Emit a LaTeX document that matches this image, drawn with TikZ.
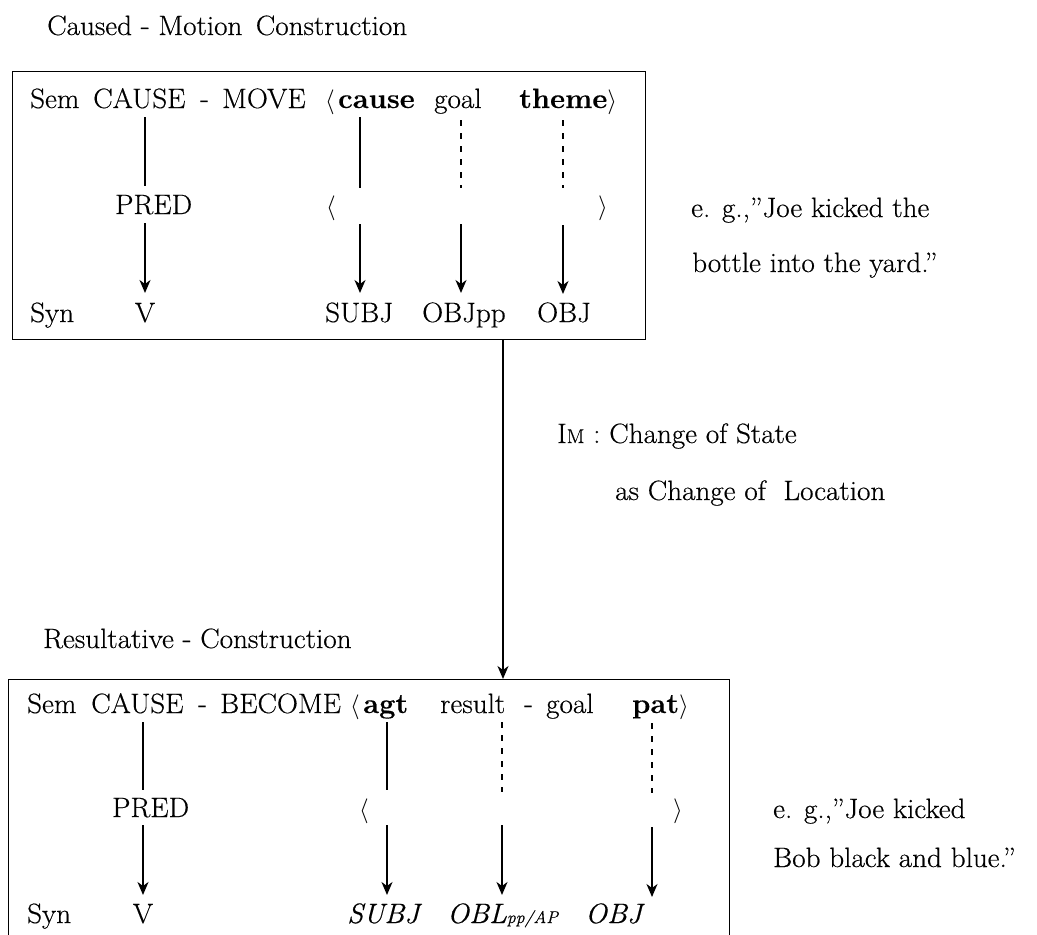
\documentclass[tikz,border=0pt]{standalone}
\usepackage{fontspec}
\setmainfont{Latin Modern Roman}[FakeStretch=1.04,FakeBold=0.4]
\usetikzlibrary{arrows.meta}
\newcommand{\shortdash}{\raisebox{0.6pt}{-}}
\begin{document}
\begin{tikzpicture}[x=1pt,y=-1pt,
  txt/.style={anchor=base west,inner sep=0pt,font=\fontsize{28}{32}\selectfont},
  ctxt/.style={anchor=base,inner sep=0pt,font=\fontsize{28}{32}\selectfont},
  link/.style={line width=1.5pt},
  dlink/.style={line width=1.3pt,dash pattern=on 6pt off 7pt},
  arr/.style={line width=1.5pt,-{Stealth[length=13pt,width=11pt,inset=4pt]}},
  frame/.style={draw,line width=1pt,inner sep=0pt}]
\clip (0,0) rectangle (1037,935);
\useasboundingbox (0,0) rectangle (1037,935);

% ---------- top construction ----------
\node[txt] (t1) at (47,35) {Caused \shortdash\ Motion \,Construction};
\node[frame,minimum width=633pt,minimum height=268pt] (topbox) at (328.5,205) {};

\node[txt] (sem1) at (30,108) {Sem};
\node[txt] (cause1) at (93,108) {CAUSE};
\node[txt] (dash1) at (200,108) {\shortdash};
\node[txt] (move1) at (222,108) {MOVE};
\node[txt] (lang1) at (325,108) {$\langle$};
\node[txt] (cause2) at (338,108) {\textbf{cause}};
\node[txt] (goal1) at (434,108) {goal};
\node[txt] (theme1) at (519,108) {\textbf{theme}$\rangle$};

\node[txt] (pred1) at (115,214) {PRED};
\node[txt] (lb1) at (326,214) {$\langle$};
\node[txt] (rb1) at (598,214) {$\rangle$};

\node[txt] (syn1) at (30,322) {Syn};
\node[ctxt] (v1) at (145,322) {V};
\node[txt] (subj1) at (325,322) {SUBJ};
\node[txt] (objpp1) at (422,322) {OBJpp};
\node[txt] (obj1) at (537,322) {OBJ};

\node[txt] (ex1a) at (691,217) {e. g.,''Joe kicked the};
\node[txt] (ex1b) at (692,272) {bottle into the yard.''};

% columns (top)
\coordinate (a1) at (145,117); \coordinate (b1) at (145,186);
\coordinate (c1) at (145,223); \coordinate (d1) at (145,293);
\coordinate (a2) at (360,117); \coordinate (b2) at (360,188);
\coordinate (c2) at (360,224); \coordinate (d2) at (360,293);
\coordinate (a3) at (461,120); \coordinate (b3) at (461,188);
\coordinate (c3) at (461,224); \coordinate (d3) at (461,293);
\coordinate (a4) at (563,120); \coordinate (b4) at (563,188);
\coordinate (c4) at (563,225); \coordinate (d4) at (563,294);
\draw[link] (a1) -- (b1);  \draw[arr] (c1) -- (d1);
\draw[link] (a2) -- (b2);  \draw[arr] (c2) -- (d2);
\draw[dlink] (a3) -- (b3); \draw[arr] (c3) -- (d3);
\draw[dlink] (a4) -- (b4); \draw[arr] (c4) -- (d4);

% ---------- link between constructions ----------
\node[txt] (im1) at (557,443) {I{\fontsize{20}{22}\selectfont M} : Change of State};
\node[txt] (im2) at (615,500) {as Change of \ Location};

\node[txt] (t2) at (43,648) {Resultative \shortdash\ Construction};
\node[frame,anchor=north west,minimum width=721pt,minimum height=300pt] (botbox) at (8,679) {};

\coordinate (mc) at (503,0);
\draw[arr] (topbox.south -| mc) -- (botbox.north -| mc);

% ---------- resultative construction ----------
\node[txt] (sem2) at (27,713) {Sem};
\node[txt] (cause3) at (91,713) {CAUSE};
\node[txt] (dash2) at (198,713) {\shortdash};
\node[txt] (become2) at (220,713) {BECOME};
\node[txt] (lang2) at (350,713) {$\langle$};
\node[txt] (agt2) at (363,713) {\textbf{agt}};
\node[txt] (result2) at (440,713) {result};
\node[txt] (dash3) at (524,713) {\shortdash};
\node[txt] (goal2) at (546,713) {goal};
\node[txt] (pat2) at (632,713) {\textbf{pat}$\rangle$};

\node[txt] (pred2) at (112,817) {PRED};
\node[txt] (lb2) at (359,817) {$\langle$};
\node[txt] (rb2) at (673,817) {$\rangle$};

\node[txt] (syn2) at (27,923) {Syn};
\node[ctxt] (v2) at (143,923) {V};
\node[txt] (subj2) at (347,923) {\textit{SUBJ}};
\node[txt] (obl2) at (447,923) {\textit{OBL}{\fontsize{17}{18}\selectfont\textit{pp/AP}}};
\node[txt] (obj2) at (585,923) {\textit{OBJ}};

\node[txt] (ex2a) at (773,818) {e. g.,''Joe kicked};
\node[txt] (ex2b) at (773,867) {Bob black and blue.''};

% columns (bottom)
\coordinate (e1) at (143,722); \coordinate (f1) at (143,790);
\coordinate (g1) at (143,825); \coordinate (h1) at (143,895);
\coordinate (e2) at (387,722); \coordinate (f2) at (387,790);
\coordinate (g2) at (387,825); \coordinate (h2) at (387,895);
\coordinate (e3) at (502,722); \coordinate (f3) at (502,792);
\coordinate (g3) at (502,825); \coordinate (h3) at (502,895);
\coordinate (e4) at (652,723); \coordinate (f4) at (652,793);
\coordinate (g4) at (652,827); \coordinate (h4) at (652,897);
\draw[link] (e1) -- (f1);  \draw[arr] (g1) -- (h1);
\draw[link] (e2) -- (f2);  \draw[arr] (g2) -- (h2);
\draw[dlink] (e3) -- (f3); \draw[arr] (g3) -- (h3);
\draw[dlink] (e4) -- (f4); \draw[arr] (g4) -- (h4);
\end{tikzpicture}
\end{document}
